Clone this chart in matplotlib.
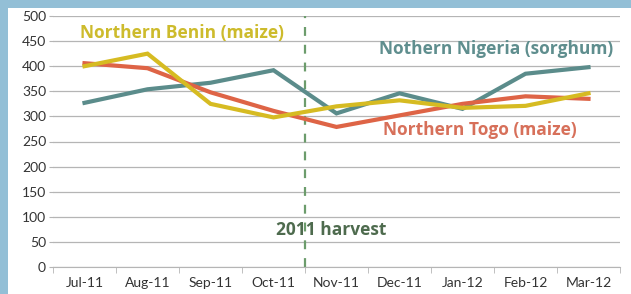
import matplotlib.pyplot as plt

# Price data
months = ['Jul-11', 'Aug-11', 'Sep-11', 'Oct-11', 'Nov-11', 'Dec-11', 'Jan-12', 'Feb-12', 'Mar-12']
togo_maize = [406, 396, 348, 311, 279, 302, 325, 340, 335]
benin_maize = [400, 425, 325, 298, 320, 332, 317, 321, 346]
nigeria_sorghum = [327, 354, 367, 392, 306, 346, 315, 385, 398]
yticks = list(range(0, 501, 50))

plt.rcParams['font.family'] = ['Lato', 'DejaVu Sans']
label_font = ['Open Sans', 'DejaVu Sans']

fig = plt.figure(figsize=(6.31, 2.94), dpi=100)
fig.patch.set_facecolor('#93bfd6')

# white panel inside the blue border
bg = fig.add_axes([8 / 631, 0, 1 - 8 / 631, (294 - 8) / 294])
bg.set_facecolor('white')
bg.set_xticks([])
bg.set_yticks([])
for s in bg.spines.values():
    s.set_visible(False)
bg.set_zorder(0)

ax = fig.add_axes([53 / 631, (294 - 267) / 294, (620 - 53) / 631, (267 - 16) / 294])
ax.set_facecolor('none')
ax.set_zorder(1)

x = range(len(months))
ax.plot(x, nigeria_sorghum, color='#5b8c8b', lw=3, solid_joinstyle='miter', zorder=3)
ax.plot(x, togo_maize, color='#de6446', lw=3, solid_joinstyle='miter', zorder=3)
ax.plot(x, benin_maize, color='#d6bb22', lw=3, solid_joinstyle='miter', zorder=4)

ax.axvline(3.5, color='#6c9c6c', lw=1.6, ls=(0, (4, 4)), zorder=2)

ax.set_xlim(-0.5, len(months) - 0.5)
ax.set_ylim(0, 500)
ax.set_yticks(yticks)
ax.yaxis.grid(True, color='#b5b5b5', lw=0.9)
ax.set_axisbelow(True)

ax.set_xticks(x)
ax.set_xticklabels(months)
ax.set_xticks([i - 0.5 for i in range(len(months) + 1)], minor=True)
ax.tick_params(axis='x', which='major', length=0, labelsize=10, colors='#333333', pad=7)
ax.tick_params(axis='x', which='minor', length=4, color='#b5b5b5')
ax.tick_params(axis='y', length=3, color='#b5b5b5', labelsize=10, labelcolor='#333333', pad=2)

for s in ['top', 'right', 'left']:
    ax.spines[s].set_visible(False)
ax.spines['bottom'].set_color('#b5b5b5')

ax.text(1.54, 466, 'Northern Benin (maize)', color='#cdbb2c', fontsize=12.5, fontweight='bold',
        ha='center', va='center', family=label_font)
ax.text(6.54, 435, 'Nothern Nigeria (sorghum)', color='#5f8e8e', fontsize=12.5, fontweight='bold',
        ha='center', va='center', family=label_font)
ax.text(6.27, 272, 'Northern Togo (maize)', color='#d7705a', fontsize=12.5, fontweight='bold',
        ha='center', va='center', family=label_font)
ax.text(3.92, 73, '2011 harvest', color='#4e6b4e', fontsize=12.5, fontweight='bold',
        ha='center', va='center', zorder=5, family=label_font)

plt.savefig('out.png', dpi=100)
